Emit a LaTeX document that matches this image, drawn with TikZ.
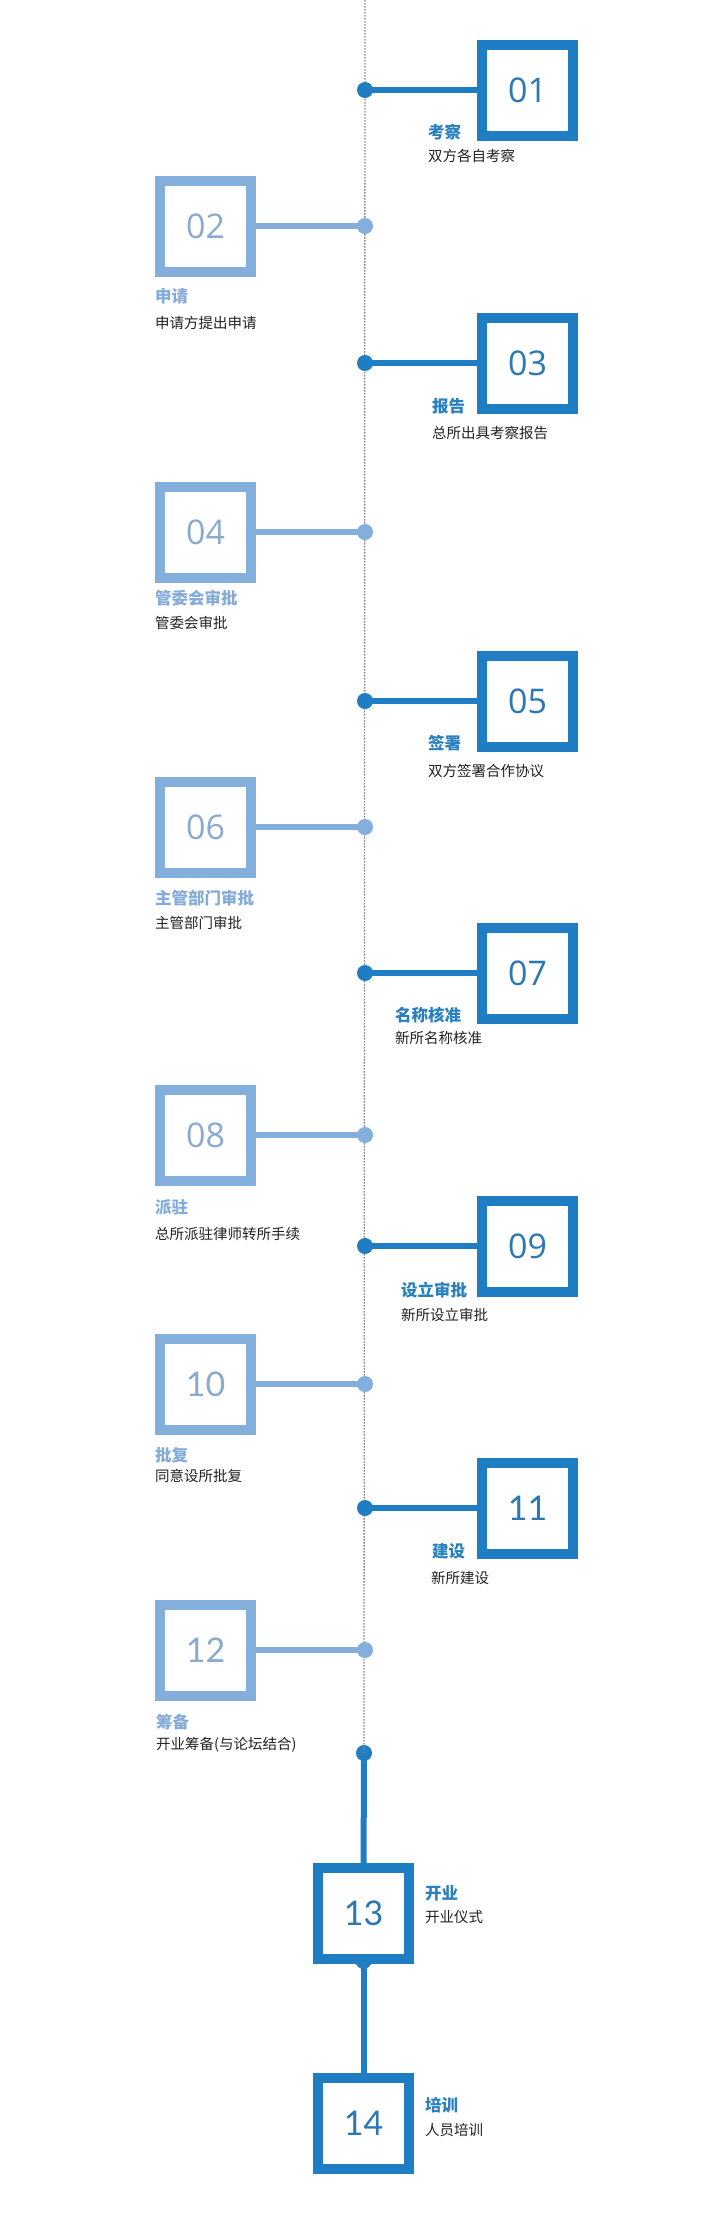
\documentclass[tikz,border=0pt]{standalone}
\usepackage{fontspec}
\setmainfont{Noto Sans CJK SC}
\newfontfamily\numa{Open Sans}
\newfontfamily\numb{Lato}
\definecolor{dk}{RGB}{31,125,195}
\definecolor{lt}{RGB}{132,174,220}
\definecolor{dknum}{RGB}{43,120,181}
\definecolor{ltnum}{RGB}{138,170,206}
\definecolor{dktitle}{RGB}{40,128,192}
\definecolor{lttitle}{RGB}{133,172,216}
\definecolor{subc}{RGB}{34,34,34}
\definecolor{axis}{RGB}{135,135,135}
\tikzset{
  dkbox/.style={draw=dk,line width=10pt,minimum width=91pt,minimum height=91pt,inner sep=0pt,fill=white,text=dknum,font=\numa\fontsize{34}{34}\selectfont},
  ltbox/.style={draw=lt,line width=10pt,minimum width=91pt,minimum height=91pt,inner sep=0pt,fill=white,text=ltnum,font=\numa\fontsize{34}{34}\selectfont},
  dkdot/.style={circle,fill=dk,minimum size=16pt,inner sep=0pt},
  ltdot/.style={circle,fill=lt,minimum size=16pt,inner sep=0pt},
  dkline/.style={draw=dk,line width=6pt},
  ltline/.style={draw=lt,line width=6pt},
  dktitle/.style={anchor=west,inner sep=0pt,text=dktitle,font=\bfseries\fontsize{16.5}{16.5}\selectfont},
  lttitle/.style={anchor=west,inner sep=0pt,text=lttitle,font=\bfseries\fontsize{16.5}{16.5}\selectfont},
  subtext/.style={anchor=west,inner sep=0pt,text=subc,font=\fontsize{14.5}{14.5}\selectfont},
  latonum/.style={font=\numb\fontsize{34}{34}\selectfont},
}
\begin{document}
\begin{tikzpicture}[x=1pt,y=-1pt]
\useasboundingbox (0,0) rectangle (720,2236);
\fill[white] (0,0) rectangle (720,2236);
% timeline
\coordinate (top) at (365,0);
\node[dkdot] (d13) at (364,1753) {};
\draw[axis,line width=1.3pt,dash pattern=on 1.5pt off 1.5pt] (top) -- (d13.center);
% right items
\node[dkdot] (d01) at (365,90) {};
\node[dkbox] (b01) at (527.5,90) {01};
\draw[dkline] (d01.center) -- (b01.west);
\node[dktitle] (t01) at (428,132) {考察};
\node[subtext] (s01) at (428,156) {双方各自考察};

\node[dkdot] (d03) at (365,363) {};
\node[dkbox] (b03) at (527.5,363) {03};
\draw[dkline] (d03.center) -- (b03.west);
\node[dktitle] (t03) at (432,406) {报告};
\node[subtext] (s03) at (432,433) {总所出具考察报告};

\node[dkdot] (d05) at (365,701) {};
\node[dkbox] (b05) at (527.5,701) {05};
\draw[dkline] (d05.center) -- (b05.west);
\node[dktitle] (t05) at (428,743) {签署};
\node[subtext] (s05) at (428,771) {双方签署合作协议};

\node[dkdot] (d07) at (365,973) {};
\node[dkbox] (b07) at (527.5,973) {07};
\draw[dkline] (d07.center) -- (b07.west);
\node[dktitle] (t07) at (395,1015) {名称核准};
\node[subtext] (s07) at (395,1038) {新所名称核准};

\node[dkdot] (d09) at (365,1246) {};
\node[dkbox] (b09) at (527.5,1246) {09};
\draw[dkline] (d09.center) -- (b09.west);
\node[dktitle] (t09) at (401,1290) {设立审批};
\node[subtext] (s09) at (401,1315) {新所设立审批};

\node[dkdot] (d11) at (365,1508) {};
\node[dkbox,latonum] (b11) at (527.5,1508) {11};
\draw[dkline] (d11.center) -- (b11.west);
\node[dktitle] (t11) at (432,1551) {建设};
\node[subtext] (s11) at (431,1578) {新所建设};

% left items
\node[ltdot] (d02) at (365,226) {};
\node[ltbox] (b02) at (205.5,226) {02};
\draw[ltline] (d02.center) -- (b02.east);
\node[lttitle] (t02) at (155,296) {申请};
\node[subtext] (s02) at (155,323) {申请方提出申请};

\node[ltdot] (d04) at (365,532) {};
\node[ltbox] (b04) at (205.5,532) {04};
\draw[ltline] (d04.center) -- (b04.east);
\node[lttitle] (t04) at (155,598) {管委会审批};
\node[subtext] (s04) at (155,623) {管委会审批};

\node[ltdot] (d06) at (365,827) {};
\node[ltbox] (b06) at (205.5,827) {06};
\draw[ltline] (d06.center) -- (b06.east);
\node[lttitle] (t06) at (155,898) {主管部门审批};
\node[subtext] (s06) at (155,923) {主管部门审批};

\node[ltdot] (d08) at (365,1135) {};
\node[ltbox] (b08) at (205.5,1135) {08};
\draw[ltline] (d08.center) -- (b08.east);
\node[lttitle] (t08) at (155,1207) {派驻};
\node[subtext] (s08) at (155,1234) {总所派驻律师转所手续};

\node[ltdot] (d10) at (365,1384) {};
\node[ltbox,latonum] (b10) at (205.5,1384) {10};
\draw[ltline] (d10.center) -- (b10.east);
\node[lttitle] (t10) at (155,1455) {批复};
\node[subtext] (s10) at (155,1476) {同意设所批复};

\node[ltdot] (d12) at (365,1650) {};
\node[ltbox,latonum] (b12) at (205.5,1650) {12};
\draw[ltline] (d12.center) -- (b12.east);
\node[lttitle] (t12) at (156,1722) {筹备};
\node[subtext] (s12) at (156,1745) {开业筹备(与论坛结合)};

% bottom items
\node[dkdot] (d13b) at (363.5,1961) {};
\node[dkbox,latonum] (b14) at (363.5,2123) {14};
\draw[dkline] (d13b.center) -- (b14.north);
\draw[dkline] (d13.center) -- (363.5,1880);
\node[dkbox,latonum] (b13) at (363.5,1913) {13};
\node[dktitle] (t13) at (425,1893) {开业};
\node[subtext] (s13) at (425,1917) {开业仪式};
\node[dktitle] (t14) at (425,2105) {培训};
\node[subtext] (s14) at (425,2130) {人员培训};
\end{tikzpicture}
\end{document}
